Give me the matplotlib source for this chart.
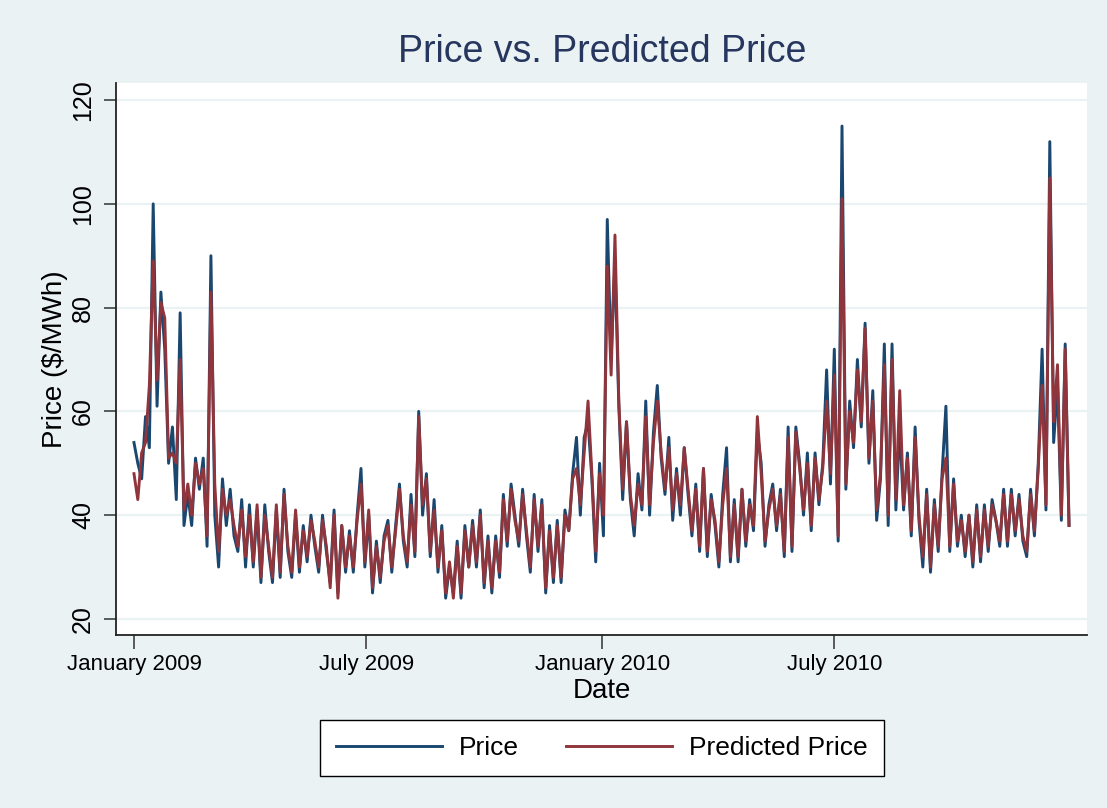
import numpy as np
import pandas as pd

import matplotlib as mpl
mpl.use("Agg")
import matplotlib.pyplot as plt


PRICE = [
    54, 50, 47, 59, 53, 100, 61, 83, 72, 50, 57, 43, 79, 38, 44, 38, 51, 45, 51, 34,
    90, 40, 30, 47, 38, 45, 36, 33, 43, 30, 42, 30, 41, 27, 42, 33, 27, 41, 28, 45,
    33, 28, 40, 29, 38, 31, 40, 34, 29, 40, 33, 27, 41, 25, 38, 29, 37, 29, 40, 49,
    30, 40, 25, 35, 27, 36, 39, 29, 38, 46, 35, 30, 44, 32, 60, 40, 48, 32, 43, 29,
    38, 24, 30, 25, 35, 24, 38, 30, 39, 30, 41, 26, 36, 25, 36, 28, 44, 34, 46, 40,
    34, 45, 36, 29, 44, 33, 43, 25, 38, 27, 39, 27, 41, 37, 48, 55, 40, 55, 58, 47,
    31, 50, 36, 97, 70, 89, 61, 43, 58, 43, 36, 48, 41, 62, 40, 56, 65, 51, 44, 55,
    39, 49, 40, 53, 44, 36, 46, 33, 49, 32, 44, 38, 30, 44, 53, 31, 43, 31, 45, 34,
    43, 37, 56, 50, 34, 42, 46, 37, 45, 32, 57, 33, 57, 50, 40, 52, 37, 52, 42, 50,
    68, 46, 72, 35, 115, 45, 62, 53, 70, 57, 77, 50, 64, 39, 47, 73, 38, 73, 41, 57,
    41, 52, 36, 57, 39, 30, 45, 29, 43, 33, 48, 61, 33, 47, 34, 40, 32, 40, 30, 42,
    31, 42, 33, 43, 39, 34, 45, 34, 45, 36, 44, 35, 32, 45, 36, 50, 72, 41, 112, 54,
    65, 39, 73, 38,
]
PREDICTED = [
    48, 43, 52, 54, 65, 89, 66, 81, 78, 51, 52, 50, 70, 41, 46, 40, 50, 46, 49, 36,
    83, 46, 33, 45, 40, 43, 38, 34, 41, 32, 40, 31, 42, 28, 40, 34, 28, 42, 29, 44,
    34, 29, 41, 30, 37, 32, 39, 35, 30, 39, 34, 26, 40, 24, 38, 30, 36, 30, 39, 46,
    31, 41, 26, 34, 28, 35, 38, 30, 37, 45, 36, 31, 42, 33, 59, 42, 47, 33, 41, 30,
    37, 25, 31, 24, 34, 25, 37, 30, 38, 31, 40, 27, 35, 26, 35, 29, 43, 35, 45, 39,
    35, 44, 37, 30, 43, 34, 42, 26, 37, 28, 38, 28, 40, 37, 47, 49, 42, 52, 62, 48,
    33, 48, 40, 88, 67, 94, 62, 45, 58, 44, 38, 46, 42, 59, 42, 54, 62, 52, 45, 53,
    41, 48, 42, 53, 45, 37, 45, 34, 49, 33, 43, 39, 31, 42, 49, 32, 42, 32, 45, 35,
    42, 38, 59, 48, 35, 41, 45, 38, 44, 33, 55, 34, 56, 49, 41, 50, 38, 51, 43, 49,
    62, 48, 67, 36, 101, 46, 60, 54, 68, 58, 76, 51, 62, 41, 48, 69, 40, 70, 43, 64,
    42, 51, 37, 55, 40, 32, 44, 30, 42, 34, 47, 51, 34, 46, 35, 39, 33, 40, 31, 41,
    32, 41, 34, 42, 39, 35, 44, 35, 44, 37, 43, 36, 33, 44, 37, 49, 65, 42, 105, 58,
    69, 40, 72, 38,
]
TICK_DATES = ["2009-01-01", "2009-07-01", "2010-01-01", "2010-07-01"]
TICK_LABELS = ["January 2009", "July 2009", "January 2010", "July 2010"]
Y_TICKS = [20, 40, 60, 80, 100, 120]

W, H = 1107, 808
BG = "#EAF2F3"
NAVY = "#1A476F"
MAROON = "#90353B"
FONT = ["Liberation Sans", "DejaVu Sans"]


def main():
    plt.rcParams["font.family"] = FONT

    dates = pd.date_range("2009-01-01", periods=len(PRICE), freq="3D")

    fig = plt.figure(figsize=(W / 100, H / 100), dpi=100, facecolor=BG)
    left, right, top, bottom = 116, 1087, 83, 635
    ax = fig.add_axes([left / W, 1 - bottom / H, (right - left) / W, (bottom - top) / H])
    ax.set_facecolor("white")

    ax.plot(dates, PRICE, color=NAVY, lw=2.1, label="Price", zorder=3)
    ax.plot(dates, PREDICTED, color=MAROON, lw=2.1, label="Predicted Price", zorder=4)

    start = pd.Timestamp("2009-01-01")
    ax.set_xlim(start - pd.Timedelta(days=14), start + pd.Timedelta(days=743))
    ax.set_ylim(16.9, 123.3)

    ax.set_yticks(Y_TICKS)
    ax.set_yticklabels([str(v) for v in Y_TICKS], rotation=90, va="center", fontsize=18)
    ax.set_xticks(pd.to_datetime(TICK_DATES))
    ax.set_xticklabels(TICK_LABELS, fontsize=16)
    ax.tick_params(axis="x", length=10, width=1.1, pad=4, color="#333333")
    ax.tick_params(axis="y", length=9, width=1.1, pad=6, color="#333333")

    ax.grid(axis="y", color=BG, lw=1.6, zorder=1)
    ax.set_axisbelow(True)

    for side in ["top", "right"]:
        ax.spines[side].set_visible(False)
    for side in ["left", "bottom"]:
        ax.spines[side].set_color("#222222")
        ax.spines[side].set_linewidth(1.3)

    ax.set_xlabel("Date", fontsize=20, labelpad=2)
    ax.set_ylabel("Price ($/MWh)", fontsize=20, labelpad=2)

    fig.text(602 / W, 1 - 52 / H, "Price vs. Predicted Price", ha="center", va="center",
             fontsize=27, color="#26365F")

    leg = fig.legend(
        loc="center", bbox_to_anchor=(602 / W, 1 - 748 / H), ncol=2,
        fontsize=19, handlelength=4.0, handletextpad=0.65, columnspacing=1.8,
        borderpad=0.6, borderaxespad=0, fancybox=False, framealpha=1, edgecolor="black",
    )
    leg.get_frame().set_linewidth(1.0)
    for line in leg.get_lines():
        line.set_linewidth(2.1)

    fig.savefig("out.png", dpi=100, facecolor=BG)


if __name__ == "__main__":
    main()
